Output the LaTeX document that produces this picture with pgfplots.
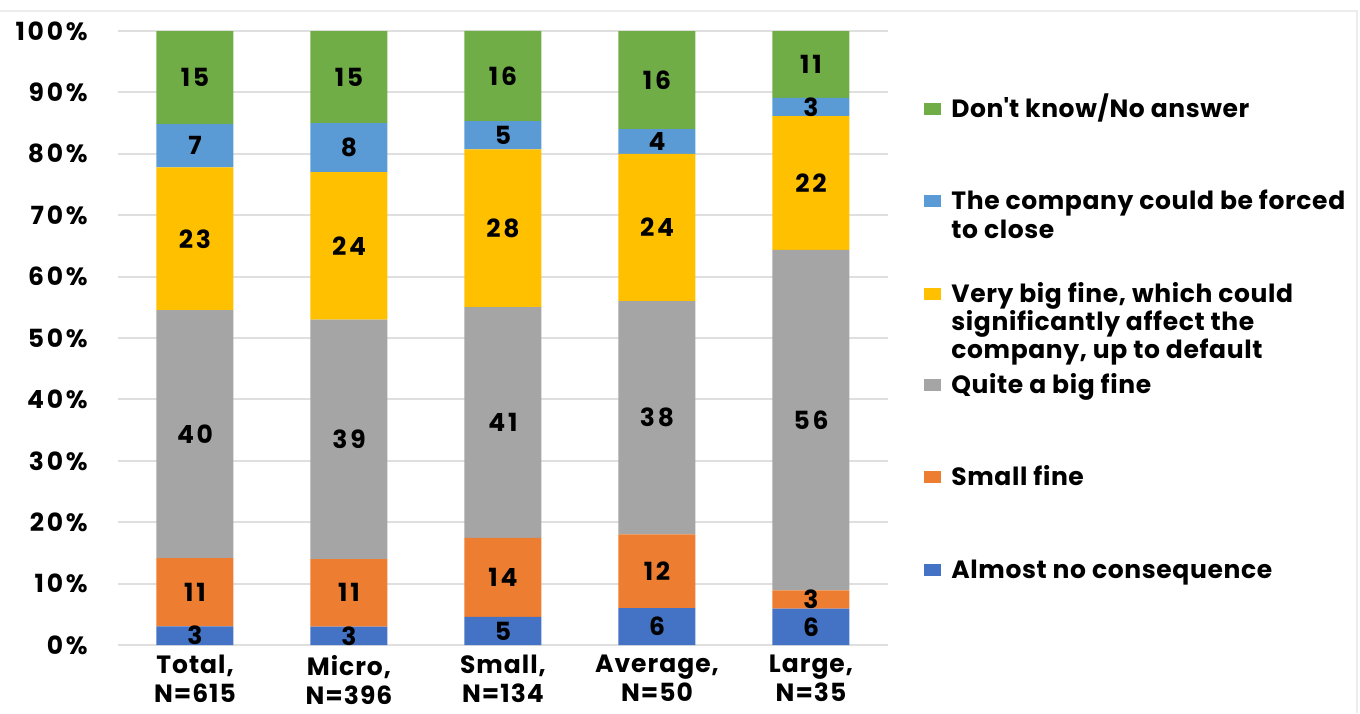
\documentclass[border=0pt]{standalone}
\usepackage{fontspec}
\setmainfont{Poppins}[LetterSpace=4]
\newfontfamily\numfont{Poppins}[LetterSpace=11]
\newfontfamily\legfont{Poppins}[LetterSpace=2.5]
\newcommand\fs{\fontsize{12.5}{14.5}\selectfont\bfseries}
\usepackage{pgfplots}
\usepackage{pgfplotstable}
\pgfplotsset{compat=1.18}

\definecolor{cA}{HTML}{4472C4}
\definecolor{cB}{HTML}{ED7D31}
\definecolor{cC}{HTML}{A5A5A5}
\definecolor{cD}{HTML}{FFC000}
\definecolor{cE}{HTML}{5B9BD5}
\definecolor{cF}{HTML}{70AD47}

% a = almost no consequence ... f = don't know
\pgfplotstableread{
x a b c d e f
0 3 11 40 23 7 15
1 3 11 39 24 8 15
2 5 14 41 28 5 16
3 6 12 38 24 4 16
4 6 3 56 22 3 11
}\data
\pgfplotstablecreatecol[create col/expr={\thisrow{a}+\thisrow{b}+\thisrow{c}+\thisrow{d}+\thisrow{e}+\thisrow{f}}]{s}{\data}

\pgfplotsset{
  common/.style={width=385pt, height=307pt, scale only axis,
    xmin=-0.5, xmax=4.5, ymin=0, ymax=100, clip=false},
  lbl/.style={draw=none, nodes near coords, point meta=explicit symbolic,
    every node near coord/.append style={anchor=center, text=black, inner sep=0pt, font=\numfont\fs}},
}

\begin{document}
\begin{tikzpicture}[font=\fs]
\path[use as bounding box] (-59pt,-34pt) rectangle (621pt,322.5pt);
\draw[gray!15, line width=0.8pt] (-59pt,317pt) -- (619.5pt,317pt) -- (619.5pt,-34pt);

\begin{axis}[common, ybar stacked, bar width=38.5pt,
  axis line style={draw=none},
  major tick length=0pt,
  ymajorgrids, grid style={gray!25, line width=1pt},
  ytick={0,10,...,100},
  yticklabel={\pgfmathprintnumber{\tick}\%},
  yticklabel style={inner sep=0pt, xshift=-15pt, font=\numfont\fs},
  xtick={0,1,2,3,4},
  xticklabels={{Total,\\N=615},{Micro,\\N=396},{Small,\\N=134},{Average,\\N=50},{Large,\\N=35}},
  xticklabel style={align=center, inner sep=0pt, yshift=-5pt, font=\fs},
  /pgf/number format/assume math mode=true,
]
\addplot[fill=cA, draw=none] table[x=x, y expr=100*\thisrow{a}/\thisrow{s}] {\data};
\addplot[fill=cB, draw=none] table[x=x, y expr=100*\thisrow{b}/\thisrow{s}] {\data};
\addplot[fill=cC, draw=none] table[x=x, y expr=100*\thisrow{c}/\thisrow{s}] {\data};
\addplot[fill=cD, draw=none] table[x=x, y expr=100*\thisrow{d}/\thisrow{s}] {\data};
\addplot[fill=cE, draw=none] table[x=x, y expr=100*\thisrow{e}/\thisrow{s}] {\data};
\addplot[fill=cF, draw=none] table[x=x, y expr=100*\thisrow{f}/\thisrow{s}] {\data};
\end{axis}

\begin{axis}[common, hide axis]
\addplot[lbl] table[x=x, y expr=100*(0.5*\thisrow{a})/\thisrow{s}, meta=a] {\data};
\addplot[lbl] table[x=x, y expr=100*(\thisrow{a}+0.5*\thisrow{b})/\thisrow{s}, meta=b] {\data};
\addplot[lbl] table[x=x, y expr=100*(\thisrow{a}+\thisrow{b}+0.5*\thisrow{c})/\thisrow{s}, meta=c] {\data};
\addplot[lbl] table[x=x, y expr=100*(\thisrow{a}+\thisrow{b}+\thisrow{c}+0.5*\thisrow{d})/\thisrow{s}, meta=d] {\data};
\addplot[lbl] table[x=x, y expr=100*(\thisrow{a}+\thisrow{b}+\thisrow{c}+\thisrow{d}+0.5*\thisrow{e})/\thisrow{s}, meta=e] {\data};
\addplot[lbl] table[x=x, y expr=100*(\thisrow{s}-0.5*\thisrow{f})/\thisrow{s}, meta=f] {\data};
\end{axis}

% legend
\foreach \c/\y in {cF/268, cE/222, cD/175.5, cC/130, cB/84, cA/37.5}
  \fill[\c] (403pt,\y pt-3.1pt) rectangle (411.5pt,\y pt+3.1pt);
\foreach \y/\t in {268/{Don\textquotesingle t know/No answer},
                   222/{The company could be forced}, 207.5/{to close},
                   175.5/{Very big fine, which could}, 161.5/{significantly affect the}, 147.5/{company, up to default},
                   130/{Quite a big fine}, 84/{Small fine}, 37.5/{Almost no consequence}}
  \node[anchor=base west, inner sep=0pt, font=\legfont\fs] at (416.5pt,\y pt-4.4pt) {\t};
\end{tikzpicture}
\end{document}
